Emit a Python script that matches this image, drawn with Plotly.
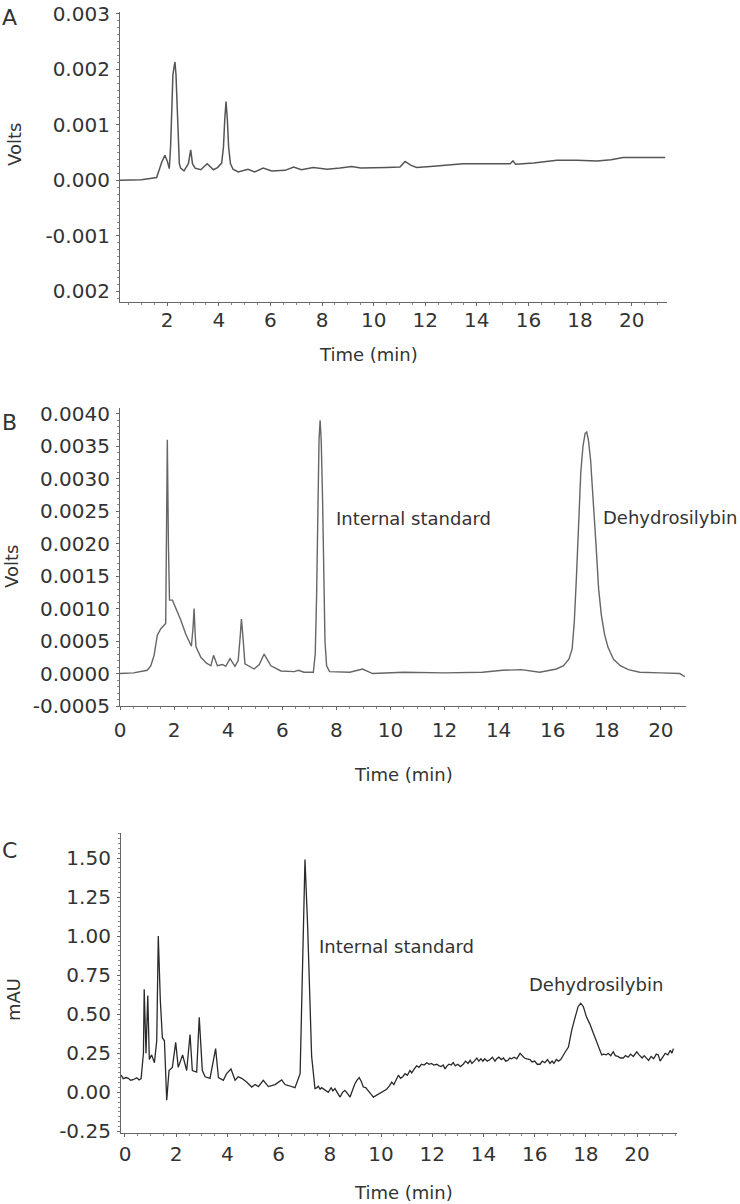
import plotly.graph_objects as go

# ---------------- data ----------------
# Panel A
A_time = [0.17, 1.0, 1.59, 1.79, 1.91, 2.0, 2.08, 2.13, 2.18, 2.22, 2.27, 2.30, 2.34,
          2.38, 2.42, 2.47, 2.52, 2.65, 2.82, 2.91, 2.98, 3.08, 3.3, 3.55, 3.79, 3.95,
          4.11, 4.18, 4.23, 4.28, 4.33, 4.38, 4.45, 4.55, 4.75, 5.13, 5.39, 5.72, 6.05,
          6.57, 6.9, 7.2, 7.66, 8.2, 8.7, 9.15, 9.5, 9.86, 10.5, 11.02, 11.22, 11.45,
          11.67, 12.2, 12.69, 13.47, 14.3, 15.29, 15.4, 15.5, 16.2, 17.1, 17.87, 18.65,
          19.2, 19.67, 20.5, 21.3]
A_volts = [0.0, 0.00001, 0.00005, 0.00033, 0.00045, 0.00035, 0.00021, 0.0006, 0.0013,
           0.0019, 0.00205, 0.00213, 0.0019, 0.0013, 0.0007, 0.0003, 0.00022, 0.00017,
           0.0003, 0.00055, 0.0003, 0.00022, 0.00019, 0.0003, 0.00019, 0.00023,
           0.00031, 0.0006, 0.0011, 0.00142, 0.0011, 0.0006, 0.0003, 0.0002, 0.00015,
           0.0002, 0.00015, 0.00022, 0.00017, 0.00018, 0.00024, 0.00019, 0.00023,
           0.0002, 0.00022, 0.00025, 0.00022, 0.00022, 0.00023, 0.00024, 0.00034,
           0.00027, 0.00023, 0.00025, 0.00027, 0.0003, 0.0003, 0.0003, 0.00035,
           0.00029, 0.00031, 0.00036, 0.00036, 0.00035, 0.00037, 0.00041, 0.00041,
           0.00041]

# Panel B
B_time = [0.0, 0.5, 1.01, 1.14, 1.26, 1.38, 1.51, 1.63, 1.69, 1.72, 1.75, 1.79, 1.83,
          1.94, 2.06, 2.25, 2.43, 2.64, 2.70, 2.74, 2.78, 2.81, 2.99, 3.2, 3.36, 3.46,
          3.6, 3.79, 3.91, 4.07, 4.25, 4.37, 4.45, 4.49, 4.54, 4.62, 4.96, 5.15, 5.33,
          5.58, 5.95, 6.44, 6.6, 6.8, 7.15, 7.22, 7.27, 7.31, 7.36, 7.40, 7.44, 7.49,
          7.54, 7.58, 7.64, 7.75, 8.5, 8.97, 9.34, 10.5, 12.0, 13.4, 14.15, 14.84,
          15.52, 16.14, 16.4, 16.6, 16.72, 16.8, 16.88, 16.96, 17.04, 17.12, 17.2,
          17.26, 17.32, 17.4, 17.5, 17.6, 17.7, 17.8, 17.92, 18.05, 18.25, 18.5, 18.8,
          19.22, 20.0, 20.7, 20.89]
B_volts = [0.0, 0.00001, 0.00005, 0.00012, 0.00028, 0.00059, 0.00069, 0.00074, 0.00077,
           0.0022, 0.0036, 0.0020, 0.00113, 0.00113, 0.00102, 0.00082, 0.00061, 0.00042,
           0.0007, 0.001, 0.0006, 0.00041, 0.00025, 0.00016, 0.00012, 0.00028, 0.00012,
           0.00014, 0.00011, 0.00023, 0.00011, 0.0002, 0.0006, 0.00084, 0.0006, 0.00015,
           0.00007, 0.00014, 0.0003, 0.00012, 0.00004, 0.00003, 0.00005, 0.00002,
           0.00002, 0.0003, 0.0012, 0.0026, 0.0036, 0.0039, 0.0036, 0.0027, 0.0013,
           0.0005, 0.00012, 0.00003, 0.00002, 0.00007, 0.0, 0.00002, 0.00001, 0.00002,
           0.00005, 0.00006, 0.00002, 0.00007, 0.00012, 0.00022, 0.00038, 0.0008,
           0.0015, 0.0023, 0.0031, 0.0035, 0.0037, 0.00372, 0.0036, 0.0033, 0.0027,
           0.002, 0.0013, 0.0009, 0.0006, 0.0004, 0.00022, 0.00012, 0.00006, 0.00002,
           0.00001, 0.0, -0.00005]

# Panel C
C_time = [-0.15, -0.07, 0.05, 0.13, 0.22, 0.32, 0.46, 0.55, 0.63, 0.72, 0.75, 0.78,
          0.82, 0.89, 0.95, 1.04, 1.15, 1.24, 1.30, 1.38, 1.46, 1.54, 1.63, 1.72, 1.85,
          1.98, 2.08, 2.25, 2.41, 2.54, 2.63, 2.8, 2.9, 3.02, 3.13, 3.32, 3.54, 3.65,
          3.84, 3.97, 4.14, 4.3, 4.42, 4.56, 4.75, 4.95, 5.08, 5.21, 5.4, 5.6, 5.86,
          6.12, 6.25, 6.38, 6.64, 6.84, 6.94, 7.03, 7.13, 7.29, 7.42, 7.5, 7.55, 7.62,
          7.68, 7.8, 7.94, 8.05, 8.12, 8.2, 8.3, 8.4, 8.5, 8.59, 8.7, 8.79, 8.9, 8.98,
          9.07, 9.15, 9.23, 9.31, 9.4, 9.5, 9.6, 9.7, 9.8, 9.96, 10.1, 10.22, 10.32,
          10.42, 10.5, 10.6, 10.68, 10.76, 10.85, 10.94, 11.03, 11.13, 11.2, 11.3,
          11.39, 11.48, 11.58, 11.68, 11.79, 11.88, 11.97, 12.06, 12.18, 12.27, 12.35,
          12.43, 12.5, 12.58, 12.65, 12.74, 12.82, 12.9, 13.0, 13.1, 13.21, 13.3, 13.4,
          13.48, 13.55, 13.64, 13.74, 13.82, 13.9, 13.98, 14.05, 14.15, 14.26, 14.35,
          14.45, 14.52, 14.6, 14.7, 14.78, 14.87, 14.95, 15.03, 15.1, 15.2, 15.3,
          15.43, 15.52, 15.6, 15.7, 15.82, 15.9, 16.0, 16.1, 16.21, 16.3, 16.4, 16.5,
          16.6, 16.68, 16.75, 16.85, 16.93, 17.02, 17.12, 17.2, 17.32, 17.45, 17.58,
          17.7, 17.8, 17.9, 18.03, 18.15, 18.29, 18.42, 18.55, 18.62, 18.7, 18.8,
          18.87, 18.97, 19.07, 19.15, 19.25, 19.35, 19.46, 19.55, 19.65, 19.75, 19.85,
          19.99, 20.08, 20.2, 20.28, 20.35, 20.45, 20.55, 20.65, 20.75, 20.83, 20.9,
          21.0, 21.1, 21.2, 21.3, 21.36, 21.42]
C_mau = [0.11, 0.088, 0.095, 0.09, 0.078, 0.081, 0.094, 0.08, 0.088, 0.25, 0.66, 0.40,
         0.25, 0.62, 0.21, 0.24, 0.19, 0.33, 1.0, 0.59, 0.35, 0.33, -0.05, 0.14, 0.16,
         0.32, 0.16, 0.24, 0.14, 0.37, 0.14, 0.13, 0.48, 0.14, 0.10, 0.09, 0.28, 0.094,
         0.077, 0.12, 0.15, 0.077, 0.10, 0.09, 0.066, 0.034, 0.05, 0.037, 0.077, 0.037,
         0.05, 0.08, 0.05, 0.044, 0.03, 0.12, 0.97, 1.49, 1.08, 0.23, 0.024, 0.03,
         0.04, 0.02, 0.03, 0.015, 0.0, 0.03, 0.01, 0.024, 0.0, -0.03, 0.0, 0.013,
         -0.01, -0.03, 0.02, 0.055, 0.08, 0.094, 0.07, 0.034, 0.03, 0.013, -0.01,
         -0.03, -0.02, -0.008, 0.01, 0.02, 0.04, 0.066, 0.05, 0.08, 0.11, 0.09, 0.1,
         0.12, 0.11, 0.14, 0.125, 0.15, 0.17, 0.16, 0.18, 0.175, 0.19, 0.18, 0.185,
         0.175, 0.18, 0.17, 0.165, 0.175, 0.15, 0.17, 0.18, 0.175, 0.19, 0.17, 0.18,
         0.165, 0.18, 0.2, 0.185, 0.205, 0.185, 0.2, 0.22, 0.2, 0.215, 0.2, 0.215, 0.2,
         0.21, 0.225, 0.2, 0.215, 0.225, 0.21, 0.22, 0.2, 0.205, 0.22, 0.215, 0.225,
         0.215, 0.25, 0.23, 0.22, 0.215, 0.21, 0.195, 0.2, 0.18, 0.18, 0.2, 0.19,
         0.21, 0.185, 0.2, 0.185, 0.21, 0.2, 0.21, 0.24, 0.26, 0.29, 0.4, 0.48, 0.55,
         0.57, 0.55, 0.48, 0.44, 0.38, 0.32, 0.26, 0.24, 0.245, 0.24, 0.25, 0.235,
         0.26, 0.235, 0.23, 0.22, 0.22, 0.235, 0.225, 0.245, 0.23, 0.26, 0.24, 0.22,
         0.235, 0.22, 0.205, 0.23, 0.215, 0.245, 0.24, 0.2, 0.23, 0.25, 0.24, 0.27,
         0.25, 0.28]

assert len(A_time) == len(A_volts)
assert len(B_time) == len(B_volts)
assert len(C_time) == len(C_mau)

A_yticks = [-0.002, -0.001, 0.0, 0.001, 0.002, 0.003]
A_ytext = ["0.002", "-0.001", "0.000", "0.001", "0.002", "0.003"]
A_xticks = [2, 4, 6, 8, 10, 12, 14, 16, 18, 20]
B_yticks = [-0.0005, 0.0, 0.0005, 0.001, 0.0015, 0.002, 0.0025, 0.003, 0.0035, 0.004]
B_ytext = ["-0.0005", "0.0000", "0.0005", "0.0010", "0.0015", "0.0020", "0.0025",
           "0.0030", "0.0035", "0.0040"]
BC_xticks = [0, 2, 4, 6, 8, 10, 12, 14, 16, 18, 20]
C_yticks = [-0.25, 0.0, 0.25, 0.5, 0.75, 1.0, 1.25, 1.5]
C_ytext = ["-0.25", "0.00", "0.25", "0.50", "0.75", "1.00", "1.25", "1.50"]

# ---------------- figure ----------------
W, H = 740, 1204
FONT = "DejaVu Sans"
TXT = "#333333"
AX = "#666666"


def px(x):
    return x / W


def py(y):
    return 1 - y / H


fig = go.Figure()
fig.add_trace(go.Scatter(x=A_time, y=A_volts, mode="lines", xaxis="x", yaxis="y",
                         line=dict(color="#555555", width=1.5), showlegend=False))
fig.add_trace(go.Scatter(x=B_time, y=B_volts, mode="lines", xaxis="x2", yaxis="y2",
                         line=dict(color="#666666", width=1.4), showlegend=False))
fig.add_trace(go.Scatter(x=C_time, y=C_mau, mode="lines", xaxis="x3", yaxis="y3",
                         line=dict(color="#2a2a2a", width=1.3), showlegend=False))


def xax(dom, rng, ticks, anchor, standoff):
    return dict(domain=dom, range=rng, anchor=anchor, tickvals=ticks, automargin=False,
                ticktext=[str(t) for t in ticks], showgrid=False, zeroline=False,
                showline=True, linecolor=AX, linewidth=1.2, ticks="outside",
                ticklen=3, tickcolor=AX, ticklabelstandoff=standoff,
                tickfont=dict(family=FONT, size=20, color=TXT),
                minor=dict(ticks="outside", ticklen=2, tickcolor="#888888", dtick=0.5))


def yax(dom, rng, vals, text, anchor, mdt):
    return dict(domain=dom, range=rng, anchor=anchor, tickvals=vals, ticktext=text,
                automargin=False, showgrid=False, zeroline=False, showline=True,
                linecolor=AX, linewidth=1.2, ticks="outside", ticklen=3, tickcolor=AX,
                ticklabelstandoff=2,
                tickfont=dict(family=FONT, size=20, color=TXT),
                minor=dict(ticks="outside", ticklen=2, tickcolor="#888888", dtick=mdt))


fig.update_layout(
    width=W, height=H, margin=dict(l=0, r=0, t=0, b=0, autoexpand=False),
    paper_bgcolor="white", plot_bgcolor="white",
    xaxis=xax([px(120), px(667)], [0.17, 21.37], A_xticks, "y", -3),
    yaxis=yax([py(302), py(12)], [-0.00219, 0.00303], A_yticks, A_ytext, "x", 0.000125),
    xaxis2=xax([px(120), px(686)], [0.0, 20.93], BC_xticks, "y2", 3),
    yaxis2=yax([py(706), py(408)], [-0.0005, 0.00409], B_yticks, B_ytext, "x2", 0.0001),
    xaxis3=xax([px(121), px(677)], [-0.156, 21.56], BC_xticks, "y3", 0),
    yaxis3=yax([py(1133), py(833)], [-0.26, 1.66], C_yticks, C_ytext, "x3", 0.03125),
)

ann = []


def label(text, x, y, size, xanchor="center", angle=0):
    ann.append(dict(text=text, x=px(x), y=py(y), xref="paper", yref="paper",
                    showarrow=False, xanchor=xanchor, yanchor="middle",
                    textangle=angle, font=dict(family=FONT, size=size, color=TXT)))


label("A", 9, 17, 22)
label("B", 9, 422, 22)
label("C", 9, 850, 22)
label("Volts", 14, 145, 18, angle=-90)
label("Volts", 12, 567, 18, angle=-90)
label("mAU", 13, 1000, 18, angle=-90)
label("Time (min)", 368, 354, 18)
label("Time (min)", 403, 774, 18)
label("Time (min)", 403, 1192, 18)
label("Internal standard", 334, 518, 18, xanchor="left")
label("Dehydrosilybin", 601, 517, 18, xanchor="left")
label("Internal standard", 317, 946, 18, xanchor="left")
label("Dehydrosilybin", 527, 985, 18, xanchor="left")
fig.update_layout(annotations=ann)

fig.write_html(
    "out.html",
    config={"displayModeBar": False},
    post_script="document.body.style.margin='0px';document.body.style.overflow='hidden';",
)
